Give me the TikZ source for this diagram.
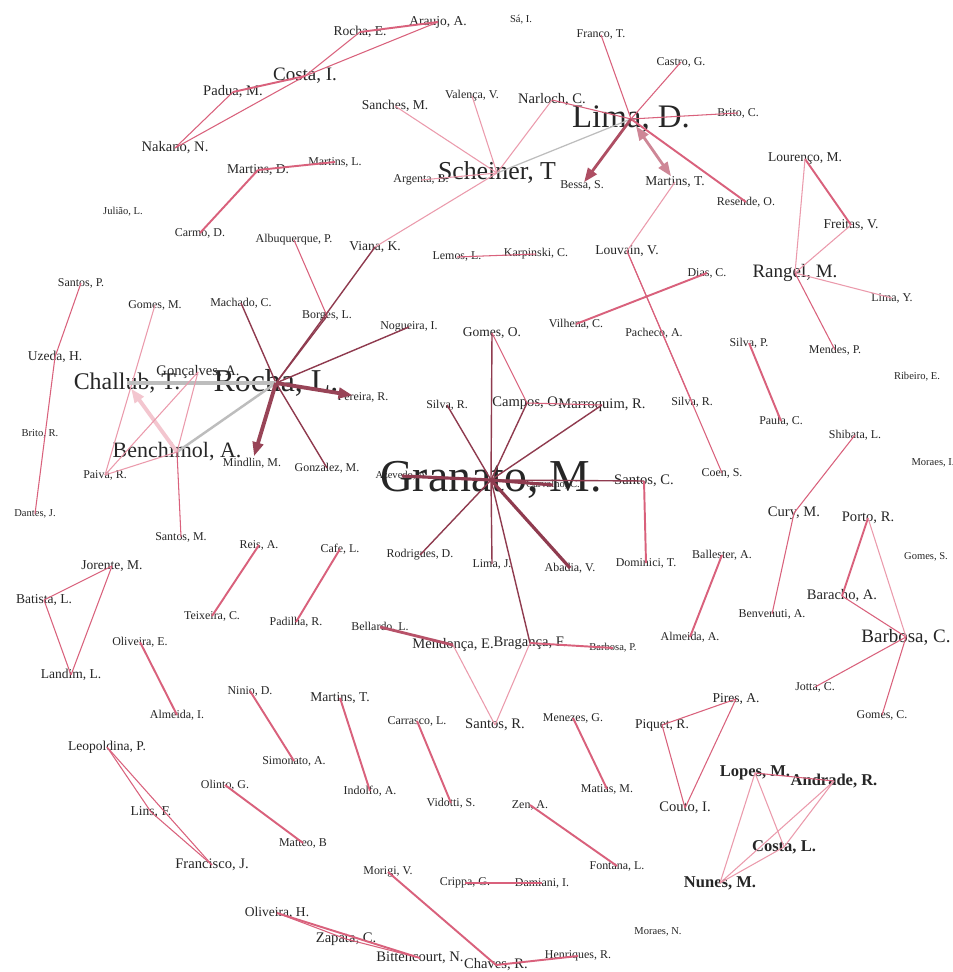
\documentclass[tikz,border=0pt]{standalone}
\usepackage{fontspec}
\setmainfont{Liberation Serif}
\usetikzlibrary{arrows.meta}
\definecolor{ink}{HTML}{262626}
\definecolor{tie}{HTML}{D9617C}
\definecolor{blush}{HTML}{EB9AAC}
\definecolor{wine}{HTML}{8F3B4F}
\definecolor{fog}{HTML}{BDBDBD}
\definecolor{petal}{HTML}{F3C6CF}
\tikzset{
  au/.style={inner sep=0pt,outer sep=0pt,text=ink},
  aua/.style={au,font=\fontsize{6.0}{7}\selectfont},
  aub/.style={au,font=\fontsize{6.8}{8}\selectfont},
  auc/.style={au,font=\fontsize{7.7}{9}\selectfont},
  aud/.style={au,font=\fontsize{8.3}{10}\selectfont},
  aue/.style={au,font=\fontsize{9.4}{11}\selectfont\bfseries},
  auf/.style={au,font=\fontsize{10.8}{12}\selectfont},
  hub/.style={au,font=\fontsize{#1}{#1}\selectfont},
  tie/.style={draw=tie,line width=0.6pt},
  tiew/.style={draw=tie,line width=1.1pt},
  pale/.style={draw=blush,line width=0.6pt},
  deep/.style={draw=wine,line width=0.8pt},
  deepw/.style={draw=wine,line width=1.8pt},
  tip/.style={-{Triangle[length=8pt,width=6pt]}},
}

\begin{document}
\begin{tikzpicture}[x=0.02cm,y=-0.02cm]
  \useasboundingbox[fill=white] (0,0) rectangle (952,972);
  % upper left
  \node[auf] (costaI) at (305,76) {Costa, I.};
  \node[aud] (padua) at (233,92) {Padua, M.};
  \node[aud] (nakano) at (175,148) {Nakano, N.};
  \node[auc] (rochaE) at (360,32) {Rocha, E.};
  \node[auc] (araujo) at (438,22) {Araujo, A.};
  \node[aua] (sa) at (521,20) {Sá, I.};
  \node[auc] (martinsD) at (258,170) {Martins, D.};
  \node[aub] (martinsL) at (335,162) {Martins, L.};
  \node[aua] (juliao) at (123,212) {Julião, L.};
  \node[aub] (carmo) at (200,233) {Carmo, D.};
  \node[aub] (albuq) at (294,240) {Albuquerque, P.};
  % Scheiner and Lima
  \node[auc] (sanches) at (395,106) {Sanches, M.};
  \node[aub] (valenca) at (472,96) {Valença, V.};
  \node[aud] (narloch) at (552,100) {Narloch, C.};
  \node[aub] (argenta) at (421,180) {Argenta, B.};
  \node[hub=14.7] (scheiner) at (497,173) {Scheiner, T};
  \node[aub] (bessa) at (582,185) {Bessa, S.};
  \node[aub] (franco) at (601,35) {Franco, T.};
  \node[hub=18.7] (limaD) at (631,119) {Lima, D.};
  \node[aub] (castro) at (681,62) {Castro, G.};
  \node[aub] (brito) at (738,113) {Brito, C.};
  \node[auc] (martinsT) at (675,182) {Martins, T.};
  \node[aub] (resende) at (746,202) {Resende, O.};
  \node[auc] (lourenco) at (805,159) {Lourenço, M.};
  \node[auc] (freitas) at (851,225) {Freitas, V.};
  \node[auf] (rangel) at (795,273) {Rangel, M.};
  \node[aub] (limaY) at (892,298) {Lima, Y.};
  \node[aub] (mendes) at (835,350) {Mendes, P.};
  \node[aua] (ribeiro) at (917,377) {Ribeiro, E.};
  % Rocha
  \node[aub] (santosP) at (81,283) {Santos, P.};
  \node[auc] (uzeda) at (55,357) {Uzeda, H.};
  \node[aua] (britoR) at (40,434) {Brito, R.};
  \node[aua] (dantes) at (35,514) {Dantes, J.};
  \node[aub] (gomesM) at (155,305) {Gomes, M.};
  \node[aub] (machado) at (241,303) {Machado, C.};
  \node[aub] (borges) at (327,316) {Borges, L.};
  \node[auc] (viana) at (375,247) {Viana, K.};
  \node[aub] (nogueira) at (409,327) {Nogueira, I.};
  \node[aud] (goncalves) at (198,372) {Gonçalves, A.};
  \node[hub=13.6] (challub) at (127,383) {Challub, T.};
  \node[hub=18.1] (rochaL) at (276,383) {Rocha, L.};
  \node[aub] (pereira) at (363,397) {Pereira, R.};
  \node[hub=12.5] (benchimol) at (177,452) {Benchimol, A.};
  \node[aub] (mindlin) at (252,463) {Mindlin, M.};
  \node[aub] (gonzalez) at (327,468) {Gonzalez, M.};
  \node[aub] (paiva) at (105,475) {Paiva, R.};
  \node[aub] (santosM) at (181,537) {Santos, M.};
  % middle band
  \node[aub] (lemos) at (457,257) {Lemos, L.};
  \node[aub] (karpinski) at (536,254) {Karpinski, C.};
  \node[auc] (louvain) at (627,251) {Louvain, V.};
  \node[aub] (dias) at (707,273) {Dias, C.};
  \node[aub] (vilhena) at (576,324) {Vilhena, C.};
  \node[aub] (pacheco) at (654,333) {Pacheco, A.};
  \node[aub] (silvaP) at (749,343) {Silva, P.};
  \node[aub] (paula) at (781,421) {Paula, C.};
  \node[aub] (silvaRb) at (692,402) {Silva, R.};
  \node[aub] (coen) at (722,473) {Coen, S.};
  \node[aub] (shibata) at (855,435) {Shibata, L.};
  \node[aua] (moraesI) at (933,463) {Moraes, I.};
  % Granato
  \node[auc] (gomesO) at (492,333) {Gomes, O.};
  \node[aub] (silvaR) at (447,405) {Silva, R.};
  \node[aud] (campos) at (527,403) {Campos, O.};
  \node[aud] (marroquim) at (602,405) {Marroquim, R.};
  \node[aua] (azevedo) at (402,476) {Azevedo, A.};
  \node[aua] (carvalho) at (553,485) {Carvalho, C.};
  \node[hub=26] (granato) at (491,480) {Granato, M.};
  \node[aud] (santosC) at (644,481) {Santos, C.};
  \node[aub] (dominici) at (646,563) {Dominici, T.};
  \node[aub] (rodrigues) at (420,555) {Rodrigues, D.};
  \node[aub] (limaJ) at (492,564) {Lima, J.};
  \node[aub] (abadia) at (570,568) {Abadia, V.};
  \node[aud] (braganca) at (530,643) {Bragança, F.};
  \node[aua] (barbosaP) at (613,648) {Barbosa, P.};
  \node[aud] (mendonca) at (453,645) {Mendonça, E.};
  \node[aub] (bellardo) at (380,627) {Bellardo, L.};
  \node[aud] (santosR) at (495,725) {Santos, R.};
  % right side
  \node[aud] (cury) at (794,513) {Cury, M.};
  \node[aub] (benvenuti) at (772,614) {Benvenuti, A.};
  \node[aub] (ballester) at (722,555) {Ballester, A.};
  \node[aub] (almeidaA) at (690,637) {Almeida, A.};
  \node[aud] (porto) at (868,518) {Porto, R.};
  \node[aua] (gomesS) at (926,557) {Gomes, S.};
  \node[aud] (baracho) at (842,596) {Baracho, A.};
  \node[auf] (barbosaC) at (906,637) {Barbosa, C.};
  \node[aub] (jotta) at (815,687) {Jotta, C.};
  \node[aub] (gomesC) at (882,715) {Gomes, C.};
  % lower left
  \node[aub] (reis) at (259,545) {Reis, A.};
  \node[aub] (teixeira) at (212,616) {Teixeira, C.};
  \node[aub] (cafe) at (340,549) {Cafe, L.};
  \node[aub] (padilha) at (296,622) {Padilha, R.};
  \node[auc] (jorente) at (112,566) {Jorente, M.};
  \node[auc] (batista) at (44,600) {Batista, L.};
  \node[auc] (landim) at (71,675) {Landim, L.};
  \node[aub] (oliveiraE) at (140,642) {Oliveira, E.};
  \node[aub] (almeidaI) at (177,715) {Almeida, I.};
  \node[aub] (ninio) at (250,691) {Ninio, D.};
  \node[aub] (simonato) at (294,761) {Simonato, A.};
  \node[auc] (leopoldina) at (107,747) {Leopoldina, P.};
  \node[auc] (lins) at (151,812) {Lins, F.};
  \node[aud] (francisco) at (212,865) {Francisco, J.};
  \node[aub] (olinto) at (225,785) {Olinto, G.};
  \node[aub] (matteo) at (303,843) {Matteo, B};
  % lower middle
  \node[auc] (martinsTb) at (340,698) {Martins, T.};
  \node[aub] (indolfo) at (370,791) {Indolfo, A.};
  \node[aub] (carrasco) at (417,721) {Carrasco, L.};
  \node[aub] (vidotti) at (451,803) {Vidotti, S.};
  \node[aub] (menezes) at (573,718) {Menezes, G.};
  \node[aub] (matias) at (607,789) {Matias, M.};
  \node[aub] (zen) at (530,805) {Zen, A.};
  \node[aub] (fontana) at (617,866) {Fontana, L.};
  \node[aub] (morigi) at (388,872) {Morigi, V.};
  \node[aub] (crippa) at (465,883) {Crippa, G.};
  \node[aub] (damiani) at (542,883) {Damiani, I.};
  \node[auc] (oliveiraH) at (277,913) {Oliveira, H.};
  \node[aud] (zapata) at (346,939) {Zapata, C.};
  \node[aud] (bittencourt) at (420,958) {Bittencourt, N.};
  \node[aud] (chaves) at (496,965) {Chaves, R.};
  \node[aub] (henriques) at (578,956) {Henriques, R.};
  % lower right
  \node[auc] (pires) at (736,699) {Pires, A.};
  \node[auc] (piquet) at (662,725) {Piquet, R.};
  \node[aud] (couto) at (685,808) {Couto, I.};
  \node[aue] (lopes) at (755,773) {Lopes, M.};
  \node[aue] (andrade) at (834,781) {Andrade, R.};
  \node[aue] (costaL) at (784,847) {Costa, L.};
  \node[aue] (nunes) at (720,883) {Nunes, M.};
  \node[aua] (moraesN) at (658,932) {Moraes, N.};

  % ties, upper part
  \draw[tiew] (costaI.center) -- (padua.center);
  \draw[tie] (costaI.center) -- (nakano.center);
  \draw[tie] (padua.center) -- (nakano.center);
  \draw[tie] (costaI.center) -- (rochaE.center);
  \draw[tie] (costaI.center) -- (araujo.center);
  \draw[tiew] (rochaE.center) -- (araujo.center);
  \draw[tiew] (martinsD.center) -- (martinsL.center);
  \draw[tiew] (martinsD.center) -- (carmo.center);
  \draw[pale] (sanches.center) -- (scheiner.center);
  \draw[pale] (valenca.center) -- (scheiner.center);
  \draw[pale] (narloch.center) -- (scheiner.center);
  \draw[pale] (scheiner.center) -- (argenta.center);
  \draw[pale] (scheiner.center) -- (viana.center);
  \draw[draw=fog,line width=0.7pt] (scheiner.center) -- (limaD.center);
  \draw[tie] (narloch.center) -- (limaD.center);
  \draw[tie] (franco.center) -- (limaD.center);
  \draw[tie] (castro.center) -- (limaD.center);
  \draw[tie] (brito.center) -- (limaD.center);
  \draw[tiew] (limaD.center) -- (resende.center);
  \draw[draw=tie!80!black,line width=1.6pt,tip,shorten >=2pt] (limaD.center) -- (bessa.center);
  \draw[draw=tie!60!fog,line width=1.6pt,{Triangle[length=8pt,width=6pt]}-{Triangle[length=8pt,width=6pt]},
    shorten <=5pt,shorten >=4pt] (limaD.center) -- (martinsT.center);
  \draw[pale] (martinsT.center) -- (louvain.center);
  \draw[tie] (louvain.center) -- (silvaRb.center);
  \draw[tie] (louvain.center) -- (coen.center);
  \draw[tiew] (lourenco.center) -- (freitas.center);
  \draw[pale] (lourenco.center) -- (rangel.center);
  \draw[pale] (freitas.center) -- (rangel.center);
  \draw[pale] (rangel.center) -- (limaY.center);
  \draw[tie] (rangel.center) -- (mendes.center);
  \draw[tie] (lemos.center) -- (karpinski.center);
  \draw[tiew] (vilhena.center) -- (dias.center);
  \draw[tiew] (silvaP.center) -- (paula.center);
  \draw[tie] (shibata.center) -- (cury.center);
  \draw[tie] (cury.center) -- (benvenuti.center);
  % ties round Rocha
  \draw[tie] (santosP.center) -- (uzeda.center);
  \draw[tie] (uzeda.center) -- (dantes.center);
  \draw[pale] (gomesM.center) -- (paiva.center);
  \draw[tie] (albuq.center) -- (borges.center);
  \draw[deep] (borges.center) -- (rochaL.center);
  \draw[deep] (viana.center) -- (rochaL.center);
  \draw[deep] (machado.center) -- (rochaL.center);
  \draw[deep] (nogueira.center) -- (rochaL.center);
  \draw[deep] (rochaL.center) -- (gonzalez.center);
  \draw[draw=fog,line width=2.2pt] (rochaL.center) -- (challub.center);
  \draw[draw=fog,line width=1.4pt] (rochaL.center) -- (benchimol.center);
  \draw[draw=petal,line width=2.2pt,tip,shorten >=4pt] (benchimol.center) -- (challub.center);
  \draw[draw=tie!70!black,line width=2.2pt,tip,shorten >=6pt] (rochaL.center) -- (pereira.center);
  \draw[draw=tie!70!black,line width=2.2pt,tip,shorten >=4pt] (rochaL.center) -- (mindlin.center);
  \draw[pale] (goncalves.center) -- (benchimol.center);
  \draw[pale] (goncalves.center) -- (paiva.center);
  \draw[pale] (benchimol.center) -- (paiva.center);
  \draw[tie] (benchimol.center) -- (santosM.center);
  % ties round Granato
  \draw[deep] (gomesO.center) -- (granato.center);
  \draw[tie] (gomesO.center) -- (campos.center);
  \draw[deep] (campos.center) -- (granato.center);
  \draw[tie] (campos.center) -- (marroquim.center);
  \draw[deep] (silvaR.center) -- (granato.center);
  \draw[deep] (marroquim.center) -- (granato.center);
  \draw[deepw] (azevedo.center) -- (granato.center);
  \draw[deepw] (granato.center) -- (carvalho.center);
  \draw[deep] (granato.center) -- (santosC.center);
  \draw[tiew] (santosC.center) -- (dominici.center);
  \draw[deep] (granato.center) -- (rodrigues.center);
  \draw[deep] (granato.center) -- (limaJ.center);
  \draw[deepw] (granato.center) -- (abadia.center);
  \draw[deep] (granato.center) -- (braganca.center);
  \draw[tiew] (braganca.center) -- (barbosaP.center);
  \draw[pale] (braganca.center) -- (santosR.center);
  \draw[pale] (mendonca.center) -- (santosR.center);
  \draw[draw=tie!85!black,line width=1.6pt] (bellardo.center) -- (mendonca.center);
  % pairs and small groups
  \draw[tiew] (cafe.center) -- (padilha.center);
  \draw[tiew] (reis.center) -- (teixeira.center);
  \draw[tiew] (ballester.center) -- (almeidaA.center);
  \draw[tiew] (porto.center) -- (baracho.center);
  \draw[tie] (baracho.center) -- (barbosaC.center);
  \draw[pale] (porto.center) -- (barbosaC.center);
  \draw[tie] (barbosaC.center) -- (jotta.center);
  \draw[tie] (barbosaC.center) -- (gomesC.center);
  \draw[tie] (jorente.center) -- (batista.center);
  \draw[tie] (batista.center) -- (landim.center);
  \draw[tie] (jorente.center) -- (landim.center);
  \draw[tiew] (oliveiraE.center) -- (almeidaI.center);
  \draw[tiew] (ninio.center) -- (simonato.center);
  \draw[tie] (leopoldina.center) -- (lins.center);
  \draw[tie] (leopoldina.center) -- (francisco.center);
  \draw[tie] (lins.center) -- (francisco.center);
  \draw[tiew] (olinto.center) -- (matteo.center);
  \draw[tiew] (martinsTb.center) -- (indolfo.center);
  \draw[tiew] (carrasco.center) -- (vidotti.center);
  \draw[tiew] (menezes.center) -- (matias.center);
  \draw[tiew] (zen.center) -- (fontana.center);
  \draw[tiew] (crippa.center) -- (damiani.center);
  \draw[tiew] (morigi.center) -- (chaves.center);
  \draw[tiew] (chaves.center) -- (henriques.center);
  \draw[tie] (oliveiraH.center) -- (zapata.center);
  \draw[tiew] (oliveiraH.center) -- (bittencourt.center);
  \draw[tie] (zapata.center) -- (bittencourt.center);
  \draw[tie] (pires.center) -- (piquet.center);
  \draw[tie] (piquet.center) -- (couto.center);
  \draw[tie] (pires.center) -- (couto.center);
  \draw[tie] (lopes.center) -- (andrade.center);
  \draw[pale] (lopes.center) -- (nunes.center);
  \draw[pale] (lopes.center) -- (costaL.center);
  \draw[pale] (andrade.center) -- (costaL.center);
  \draw[pale] (andrade.center) -- (nunes.center);
  \draw[pale] (costaL.center) -- (nunes.center);
\end{tikzpicture}
\end{document}
